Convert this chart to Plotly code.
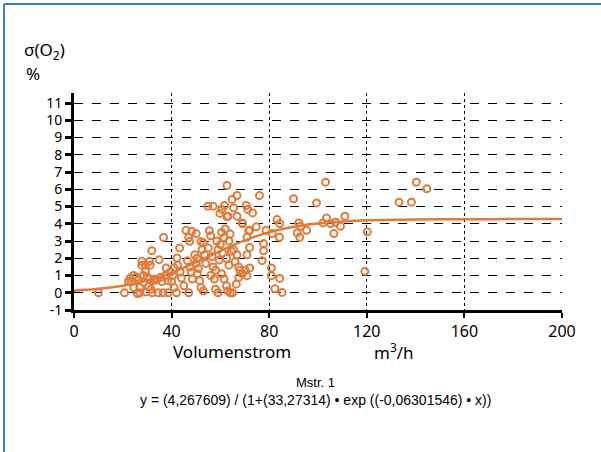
import plotly.graph_objects as go

# Scatter data: Volumenstrom (m3/h) vs sigma(O2) (%)
flow = [10, 20.7, 22.3, 23, 24.4, 23.4, 24.5, 26, 27, 27,
        27.8, 30.9, 27.8, 29.3, 31.2, 29.3, 28.5, 30, 31, 32.5,
        34, 35.5, 37.5, 28.5, 30.5, 31.5, 32, 29.5, 34.5, 36.5,
        38.7, 31.9, 34.9, 36.7, 37.8, 33, 36, 38.5, 26.5, 25.5,
        39.5, 40.5, 41, 40, 41, 42.2, 43.3, 42.5, 43.5, 44,
        42, 45, 45.9, 47, 47.4, 46.5, 47.5, 48, 48.5, 47,
        48.3, 50.1, 49.5, 50.4, 50, 51, 50.5, 51.5, 52, 53,
        52.5, 53.5, 54, 52, 53, 54.9, 57, 55.5, 56, 55,
        56.5, 57, 56, 57.5, 58, 59, 58.5, 59, 59.5, 58,
        60.6, 61.7, 59.8, 62.7, 64.8, 66.8, 65.4, 63.1, 66.8, 62.7,
        68.9, 69.1, 60.5, 61.5, 62, 63.5, 64, 60, 61, 62.5,
        63.5, 64.5, 65.4, 66.8, 66, 67.5, 68, 60.5, 61.5, 62.5,
        63, 64, 65, 66.5, 67.5, 69, 70.2, 70.9, 72, 70.9,
        72, 70.9, 71.6, 74.7, 72, 70.6, 71.2, 73.2, 76, 77.7,
        77.7, 77.1, 78.7, 81.2, 80.9, 80.9, 82.3, 84.3, 85.3, 83.2,
        84.3, 84.2, 90, 92.1, 92.8, 91.5, 92.5, 95.3, 99.4, 103.1,
        103.5, 102, 105.1, 107.2, 109.2, 111, 106.5, 120.2, 119.2, 133.2,
        138.3, 140.3, 144.6]
sigma = [0, 0, 0.66, 0.85, 1.0, 0.62, 0.3, -0.05, 0.3, 0,
         1.82, 1.82, 1.6, 1.6, 1.6, 1.24, 1.0, 0.9, 0.8, 0.7,
         0.75, 0.9, 1.0, 0.6, 0.35, 0.2, 0, 0.05, 0, 0,
         0, 2.44, 1.92, 3.2, 1.43, 0.8, 0.65, 0.7, 0.75, 0.9,
         1.2, 1.0, 1.45, 0.65, 0.3, 2.02, 2.6, 1.6, 1.2, 0.85,
         0, 0.4, 3.62, 3.2, 2.98, 1.85, 1.5, 1.2, 0.8, 0,
         3.56, 3.43, 2.2, 2.0, 1.7, 1.4, 1.1, 0.7, 2.96, 2.9,
         2.5, 2.2, 1.7, 0.3, 0.1, 5.02, 5.02, 3.6, 3.3, 2.6,
         2.1, 1.5, 1.0, 0.8, 0.2, 0, 3.0, 2.5, 1.9, 1.3,
         4.83, 5.06, 4.6, 6.22, 5.41, 5.64, 4.92, 4.44, 4.44, 4.4,
         4.05, 4.0, 3.5, 3.2, 3.7, 3.0, 3.4, 2.8, 2.3, 2.0,
         1.6, 2.4, 2.5, 2.2, 1.8, 1.5, 1.3, 1.1, 0.8, 0.4,
         0.1, 0, 0, 0.5, 0.9, 1.1, 1.3, 0.99, 1.44, 2.2,
         2.63, 3.22, 3.6, 3.82, 3.62, 5.06, 4.83, 4.63, 5.64, 2.85,
         2.44, 1.86, 3.62, 3.43, 1.44, 0.99, 0.23, 0.83, 0.02, 4.24,
         4.01, 3.22, 5.45, 4.05, 3.85, 3.47, 3.22, 3.62, 5.21, 6.41,
         4.34, 4.05, 4.01, 4.09, 3.85, 4.44, 3.43, 3.53, 1.24, 5.25,
         5.25, 6.41, 6.03]

# Fitted curve, values
fit_x = [0, 10, 20, 30, 40, 50, 60, 70, 80, 90, 100, 110, 120, 140, 160, 180, 200]
fit_y = [0.12, 0.23, 0.41, 0.71, 1.16, 1.76, 2.43, 3.04, 3.51, 3.83, 4.02, 4.13,
         4.20, 4.25, 4.26, 4.27, 4.27]

x_ticks = [0, 40, 80, 120, 160, 200]
y_ticks = [-1, 0, 1, 2, 3, 4, 5, 6, 7, 8, 9, 10, 11]

ORANGE = "#E07B3C"
FONT = "Noto Sans, Open Sans, sans-serif"
NARROW = "Liberation Sans Narrow, Arial Narrow, sans-serif"

fig = go.Figure()
fig.add_trace(go.Scatter(
    x=flow, y=sigma, mode="markers",
    marker=dict(symbol="circle-open", size=7, color=ORANGE, line=dict(width=2, color=ORANGE)),
    showlegend=False, hoverinfo="x+y"))
fig.add_trace(go.Scatter(
    x=fit_x, y=fit_y, mode="lines", line=dict(color=ORANGE, width=2.5, shape="spline"),
    showlegend=False))

fig.update_layout(
    width=601, height=452,
    margin=dict(l=74, r=39, t=93, b=142),
    paper_bgcolor="white", plot_bgcolor="white",
    font=dict(family=FONT, color="black", size=16),
    xaxis=dict(range=[0, 200], tickvals=x_ticks, ticktext=[str(v) for v in x_ticks],
               showgrid=True, gridcolor="black", griddash="dot", gridwidth=1,
               showline=True, linecolor="black", linewidth=3,
               ticks="outside", ticklen=5, tickwidth=2, tickcolor="black",
               zeroline=False, tickfont=dict(size=16, family=FONT)),
    yaxis=dict(range=[-1, 11.58], tickvals=y_ticks, ticktext=[str(v) for v in y_ticks],
               showgrid=True, gridcolor="black", griddash="dash", gridwidth=1,
               showline=True, linecolor="black", linewidth=3,
               ticks="outside", ticklen=6, tickwidth=2.5, tickcolor="black",
               zeroline=False, tickfont=dict(size=14, family=FONT)),
)

ann = [
    dict(text="σ(O<sub>2</sub>)", x=-0.1066, y=1.195, xanchor="left", yanchor="middle", font=dict(size=17)),
    dict(text="%", x=-0.1025, y=1.0876, xanchor="left", yanchor="middle", font=dict(size=17)),
    dict(text="Volumenstrom", x=0.3238, y=-0.1935, xanchor="center", yanchor="middle", font=dict(size=17)),
    dict(text="m<sup>3</sup>/h", x=0.6557, y=-0.1935, xanchor="center", yanchor="middle", font=dict(size=17)),
    dict(text="Mstr. 1", x=0.4959, y=-0.336, xanchor="center", yanchor="middle",
         font=dict(size=13, family=NARROW)),
    dict(text="y = (4,267609) / (1+(33,27314) • exp ((-0,06301546) • x))", x=0.4959, y=-0.415,
         xanchor="center", yanchor="middle", font=dict(size=14, family=NARROW)),
]
for a in ann:
    fig.add_annotation(xref="paper", yref="paper", showarrow=False, **a)

BLUE = "#3C7CC4"
fig.add_shape(type="line", xref="paper", yref="paper", x0=-0.1434, x1=-0.1434, y0=-0.66, y1=1.41,
              line=dict(color=BLUE, width=2))
fig.add_shape(type="line", xref="paper", yref="paper", x0=-0.1434, x1=1.09, y0=1.41, y1=1.41,
              line=dict(color=BLUE, width=2))

fig.write_html("out.html", config={"displayModeBar": False})

# remove the default page margin so the figure sits at the window's corner
with open("out.html", "r", encoding="utf-8") as f:
    html = f.read()
html = html.replace("<head>", "<head><style>html,body{margin:0;padding:0;overflow:hidden;}</style>", 1)
with open("out.html", "w", encoding="utf-8") as f:
    f.write(html)
